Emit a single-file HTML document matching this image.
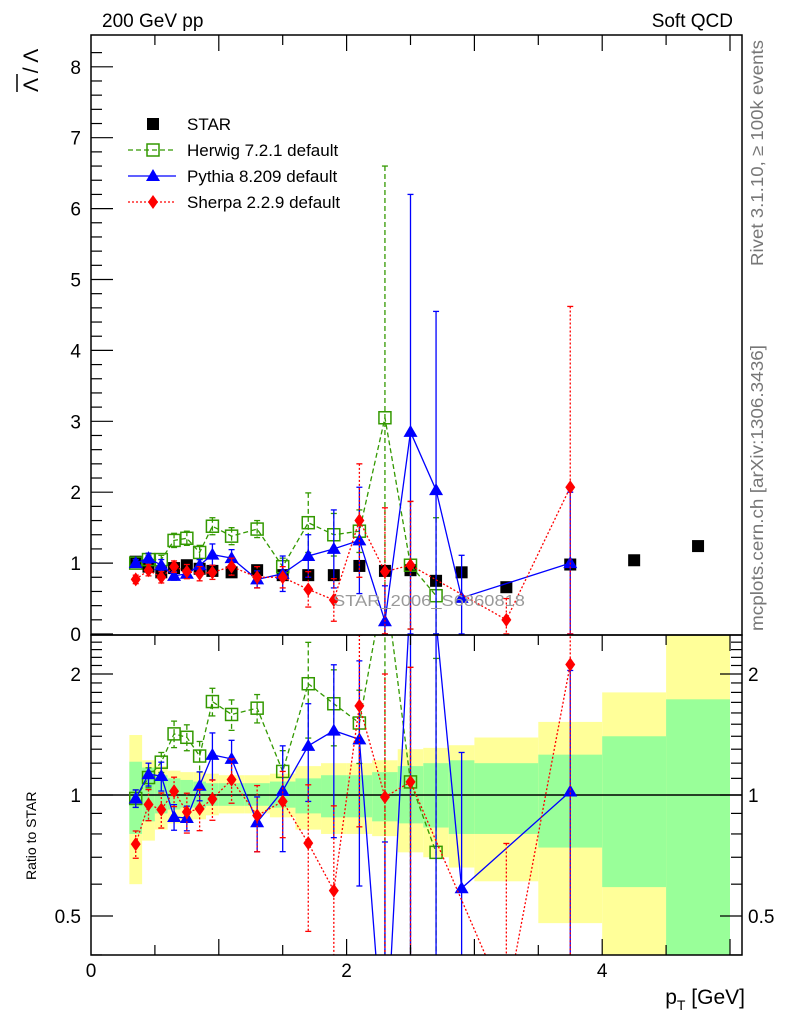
<!DOCTYPE html>
<html><head><meta charset="utf-8"><style>
html,body{margin:0;background:#fff;overflow:hidden;width:786px;height:1024px;}
svg{display:block;font-family:"Liberation Sans",sans-serif;}
</style></head><body>
<svg id="c" width="786" height="1024" viewBox="0 0 786 1024">
<defs>
<clipPath id="cm"><rect x="91" y="35" width="651" height="600"/></clipPath>
<clipPath id="cr"><rect x="91" y="635" width="651" height="320"/></clipPath>
</defs>
<g id="bands" clip-path="url(#cr)"></g>
<g id="mainMarks" clip-path="url(#cm)"></g>
<g id="ratioMarks" clip-path="url(#cr)"></g>
<g id="axes"></g>
<text x="102" y="27" font-size="19">200 GeV pp</text>
<text x="733" y="27" font-size="19" text-anchor="end">Soft QCD</text>
<text transform="translate(763,266) rotate(-90)" font-size="17.5" fill="#777" textLength="226" lengthAdjust="spacingAndGlyphs">Rivet 3.1.10, ≥ 100k events</text>
<text transform="translate(763,631) rotate(-90)" font-size="17.5" fill="#777" textLength="286" lengthAdjust="spacingAndGlyphs">mcplots.cern.ch [arXiv:1306.3436]</text>
<text x="333" y="606" font-size="16" fill="#999" textLength="192" lengthAdjust="spacingAndGlyphs">STAR_2006_S6860818</text>
<text transform="translate(38,92) rotate(-90)" font-size="21">Λ / Λ</text>
<line x1="17" y1="92" x2="17" y2="74" stroke="#000" stroke-width="1.5"/>
<text transform="translate(36,880) rotate(-90)" font-size="14">Ratio to STAR</text>
<text x="745" y="1004" font-size="21" text-anchor="end">p<tspan font-size="14" dy="6">T</tspan><tspan dy="-6"> [GeV]</tspan></text>
<g id="legend"></g>
</svg>
<script>
const starX=[0.35,0.45,0.55,0.65,0.75,0.85,0.95,1.1,1.3,1.5,1.7,1.9,2.1,2.3,2.5,2.7,2.9,3.25,3.75,4.25,4.75];
const starY=[1.02,0.95,0.87,0.93,0.97,0.92,0.89,0.87,0.9,0.83,0.83,0.83,0.96,0.89,0.9,0.75,0.87,0.66,0.98,1.04,1.24];
const binLo=[0.3,0.4,0.5,0.6,0.7,0.8,0.9,1.0,1.2,1.4,1.6,1.8,2.0,2.2,2.4,2.6,2.8,3.0,3.5,4.0,4.5];
const binHi=[0.4,0.5,0.6,0.7,0.8,0.9,1.0,1.2,1.4,1.6,1.8,2.0,2.2,2.4,2.6,2.8,3.0,3.5,4.0,4.5,5.0];
const yelUp=[1.41,1.22,1.18,1.15,1.14,1.14,1.13,1.12,1.12,1.13,1.18,1.2,1.2,1.22,1.3,1.31,1.33,1.39,1.52,1.8,2.6];
const yelDn=[0.6,0.77,0.82,0.85,0.86,0.87,0.89,0.9,0.9,0.88,0.82,0.8,0.8,0.79,0.72,0.7,0.66,0.61,0.48,0.38,0.38];
const grnUp=[1.21,1.17,1.12,1.1,1.09,1.08,1.07,1.07,1.07,1.08,1.1,1.12,1.12,1.14,1.18,1.2,1.22,1.2,1.26,1.4,1.73];
const grnDn=[0.8,0.86,0.9,0.92,0.93,0.93,0.94,0.94,0.94,0.93,0.9,0.88,0.88,0.86,0.85,0.83,0.8,0.8,0.74,0.59,0.38];
const herX=[0.35,0.45,0.55,0.65,0.75,0.85,0.95,1.1,1.3,1.5,1.7,1.9,2.1,2.3,2.5,2.7];
const herY=[1.0,1.05,1.05,1.32,1.35,1.15,1.52,1.38,1.48,0.95,1.57,1.4,1.45,3.05,0.97,0.54];
const herE=[0.05,0.06,0.06,0.1,0.1,0.1,0.12,0.12,0.12,0.12,0.42,0.3,0.3,3.55,0.9,1.1];
const pyX=[0.35,0.45,0.55,0.65,0.75,0.85,0.95,1.1,1.3,1.5,1.7,1.9,2.1,2.3,2.5,2.7,2.9,3.75];
const pyY=[1.0,1.07,0.97,0.82,0.85,0.97,1.12,1.07,0.77,0.85,1.1,1.2,1.32,0.18,2.85,2.03,0.51,1.0];
const pyE=[0.05,0.07,0.08,0.06,0.06,0.08,0.15,0.12,0.12,0.25,0.3,0.55,0.75,0.5,3.35,2.52,0.6,1.0];
const shX=[0.35,0.45,0.55,0.65,0.75,0.85,0.95,1.1,1.3,1.5,1.7,1.9,2.1,2.3,2.5,3.25,3.75];
const shY=[0.77,0.9,0.8,0.95,0.88,0.85,0.87,0.95,0.8,0.8,0.63,0.48,1.6,0.88,0.97,0.2,2.07];
const shE=[0.06,0.08,0.08,0.08,0.1,0.1,0.1,0.12,0.15,0.15,0.25,0.3,0.8,0.9,0.9,0.3,2.55];

const NS='http://www.w3.org/2000/svg';
const X=v=>91+v*127.8;
const Ym=v=>634-v*70.9;
const Yr=r=>795-121*Math.log2(r);
function mk(tag,at,par){const e=document.createElementNS(NS,tag);for(const k in at)e.setAttribute(k,at[k]);par.appendChild(e);return e;}
const bands=document.getElementById('bands');
for(let i=0;i<binLo.length;i++){
  let r=mk('rect',{x:X(binLo[i]),y:Yr(yelUp[i]),width:X(binHi[i])-X(binLo[i]),height:Yr(yelDn[i])-Yr(yelUp[i]),fill:'#ffff99'},bands);
  
  
  let g=mk('rect',{x:X(binLo[i]),y:Yr(grnUp[i]),width:X(binHi[i])-X(binLo[i]),height:Yr(grnDn[i])-Yr(grnUp[i]),fill:'#99ff99'},bands);
  
  
}
const mm=document.getElementById('mainMarks'), rm=document.getElementById('ratioMarks');
mk('line',{x1:91,x2:742,y1:795,y2:795,stroke:'#000','stroke-width':1.5},rm);
function starAt(x){const i=starX.indexOf(x);return starY[i];}
function marker(type,cx,cy,col,par){
  let e;
  if(type==='sq') e=mk('rect',{x:cx-6,y:cy-6,width:12,height:12,fill:'#000'},par);
  else if(type==='osq') e=mk('rect',{x:cx-6,y:cy-6,width:12,height:12,fill:'none',stroke:col,'stroke-width':1.5},par);
  else if(type==='tri') e=mk('polygon',{points:`${cx},${cy-7} ${cx-7},${cy+5} ${cx+7},${cy+5}`,fill:col},par);
  else e=mk('polygon',{points:`${cx},${cy-7} ${cx-5},${cy} ${cx},${cy+7} ${cx+5},${cy}`,fill:col},par);
  return e;
}
function series(name,xs,ys,es,col,dash,type,ratio){
  const par=ratio?rm:mm;
  const Y=ratio?(v,x)=>Yr(Math.max(v,0.01)/starAt(x)):(v)=>Ym(v);
  const pts=xs.map((x,i)=>`${X(x)},${Y(ys[i],x)}`).join(' ');
  const pl=mk('polyline',{points:pts,fill:'none',stroke:col,'stroke-width':1.3,'stroke-dasharray':dash},par);
  
  
  xs.forEach((x,i)=>{
    const y1=Y(ys[i]+es[i],x), y2=Y(Math.max(ys[i]-es[i],0.001),x);
    const eb=mk('line',{x1:X(x),x2:X(x),y1:y1,y2:y2,stroke:col,'stroke-width':1.3,'stroke-dasharray':dash},par);
    
    
    mk('line',{x1:X(x)-3,x2:X(x)+3,y1:y1,y2:y1,stroke:col,'stroke-width':1.3},par);
    mk('line',{x1:X(x)-3,x2:X(x)+3,y1:y2,y2:y2,stroke:col,'stroke-width':1.3},par);
    const m=marker(type,X(x),Y(ys[i],x),col,par);
    
    
  });
}
starX.forEach((x,i)=>{
  const m=marker('sq',X(x),Ym(starY[i]),'#000',mm);
  
  
});
const GC='#339900';
[false,true].forEach(r=>{
  series('herwig',herX,herY,herE,GC,'5,3','osq',r);
  series('pythia',pyX,pyY,pyE,'#0000ff','','tri',r);
  series('sherpa',shX,shY,shE,'#ff0000','2,2','dia',r);
});
const ax=document.getElementById('axes');
mk('rect',{x:91,y:35,width:651,height:600,fill:'none',stroke:'#000','stroke-width':1.5},ax);
mk('rect',{x:91,y:635,width:651,height:320,fill:'none',stroke:'#000','stroke-width':1.5},ax);
const yTicks=[0,1,2,3,4,5,6,7,8];
for(let v=0;v<=8.4;v+=0.2){const y=Ym(v);const maj=Math.abs(v-Math.round(v))<0.01;
  mk('line',{x1:91,x2:91+(maj?22:11),y1:y,y2:y,stroke:'#000','stroke-width':1.2},ax);}
yTicks.forEach(v=>{const t=mk('text',{x:81,y:Ym(v)+7,'font-size':19,'text-anchor':'end'},ax);t.textContent=v;
  
  });
for(let v=0.5;v<=5.01;v+=0.5){const maj=Math.abs(v%1)<0.01;const x=X(v);
  mk('line',{x1:x,x2:x,y1:35,y2:35+(maj?16:10),stroke:'#000','stroke-width':1.2},ax);
  mk('line',{x1:x,x2:x,y1:635,y2:635+(maj?16:10),stroke:'#000','stroke-width':1.2},ax);
  mk('line',{x1:x,x2:x,y1:955,y2:955-(maj?16:10),stroke:'#000','stroke-width':1.2},ax);}
const xTicks=[0,2,4];
xTicks.forEach(v=>{const t=mk('text',{x:X(v),y:977,'font-size':19,'text-anchor':'middle'},ax);t.textContent=v;
  
  });
const rMinor=[0.4,0.5,0.6,0.7,0.8,0.9,1,1.1,1.2,1.3,1.4,1.5,1.6,1.7,1.8,1.9,2,2.1,2.2,2.3,2.4];
rMinor.forEach(r=>{const maj=[0.5,1,2].includes(r);const y=Yr(r);
  mk('line',{x1:91,x2:91+(maj?22:11),y1:y,y2:y,stroke:'#000','stroke-width':1.2},ax);
  mk('line',{x1:742,x2:742-(maj?22:11),y1:y,y2:y,stroke:'#000','stroke-width':1.2},ax);});
const rTicks=[0.5,1,2];
rTicks.forEach(r=>{
  const t=mk('text',{x:81,y:Yr(r)+7,'font-size':19,'text-anchor':'end'},ax);t.textContent=r;
  
  
  const t2=mk('text',{x:748,y:Yr(r)+7,'font-size':19},ax);t2.textContent=r;
  
  });
const lg=document.getElementById('legend');
const lgNames=['STAR','Herwig 7.2.1 default','Pythia 8.209 default','Sherpa 2.2.9 default'];
const lgCols=['#000',GC,'#0000ff','#ff0000'];
const lgDash=['','5,3','','2,2'];
const lgType=['sq','osq','tri','dia'];
lgNames.forEach((n,i)=>{const y=124+i*26;
  if(i>0)mk('line',{x1:128,x2:176,y1:y,y2:y,stroke:lgCols[i],'stroke-width':1.3,'stroke-dasharray':lgDash[i]},lg);
  marker(lgType[i],153,y,lgCols[i],lg);
  const t=mk('text',{x:187,y:y+6,'font-size':17},lg);t.textContent=n;
  
  });
</script>
</body></html>
